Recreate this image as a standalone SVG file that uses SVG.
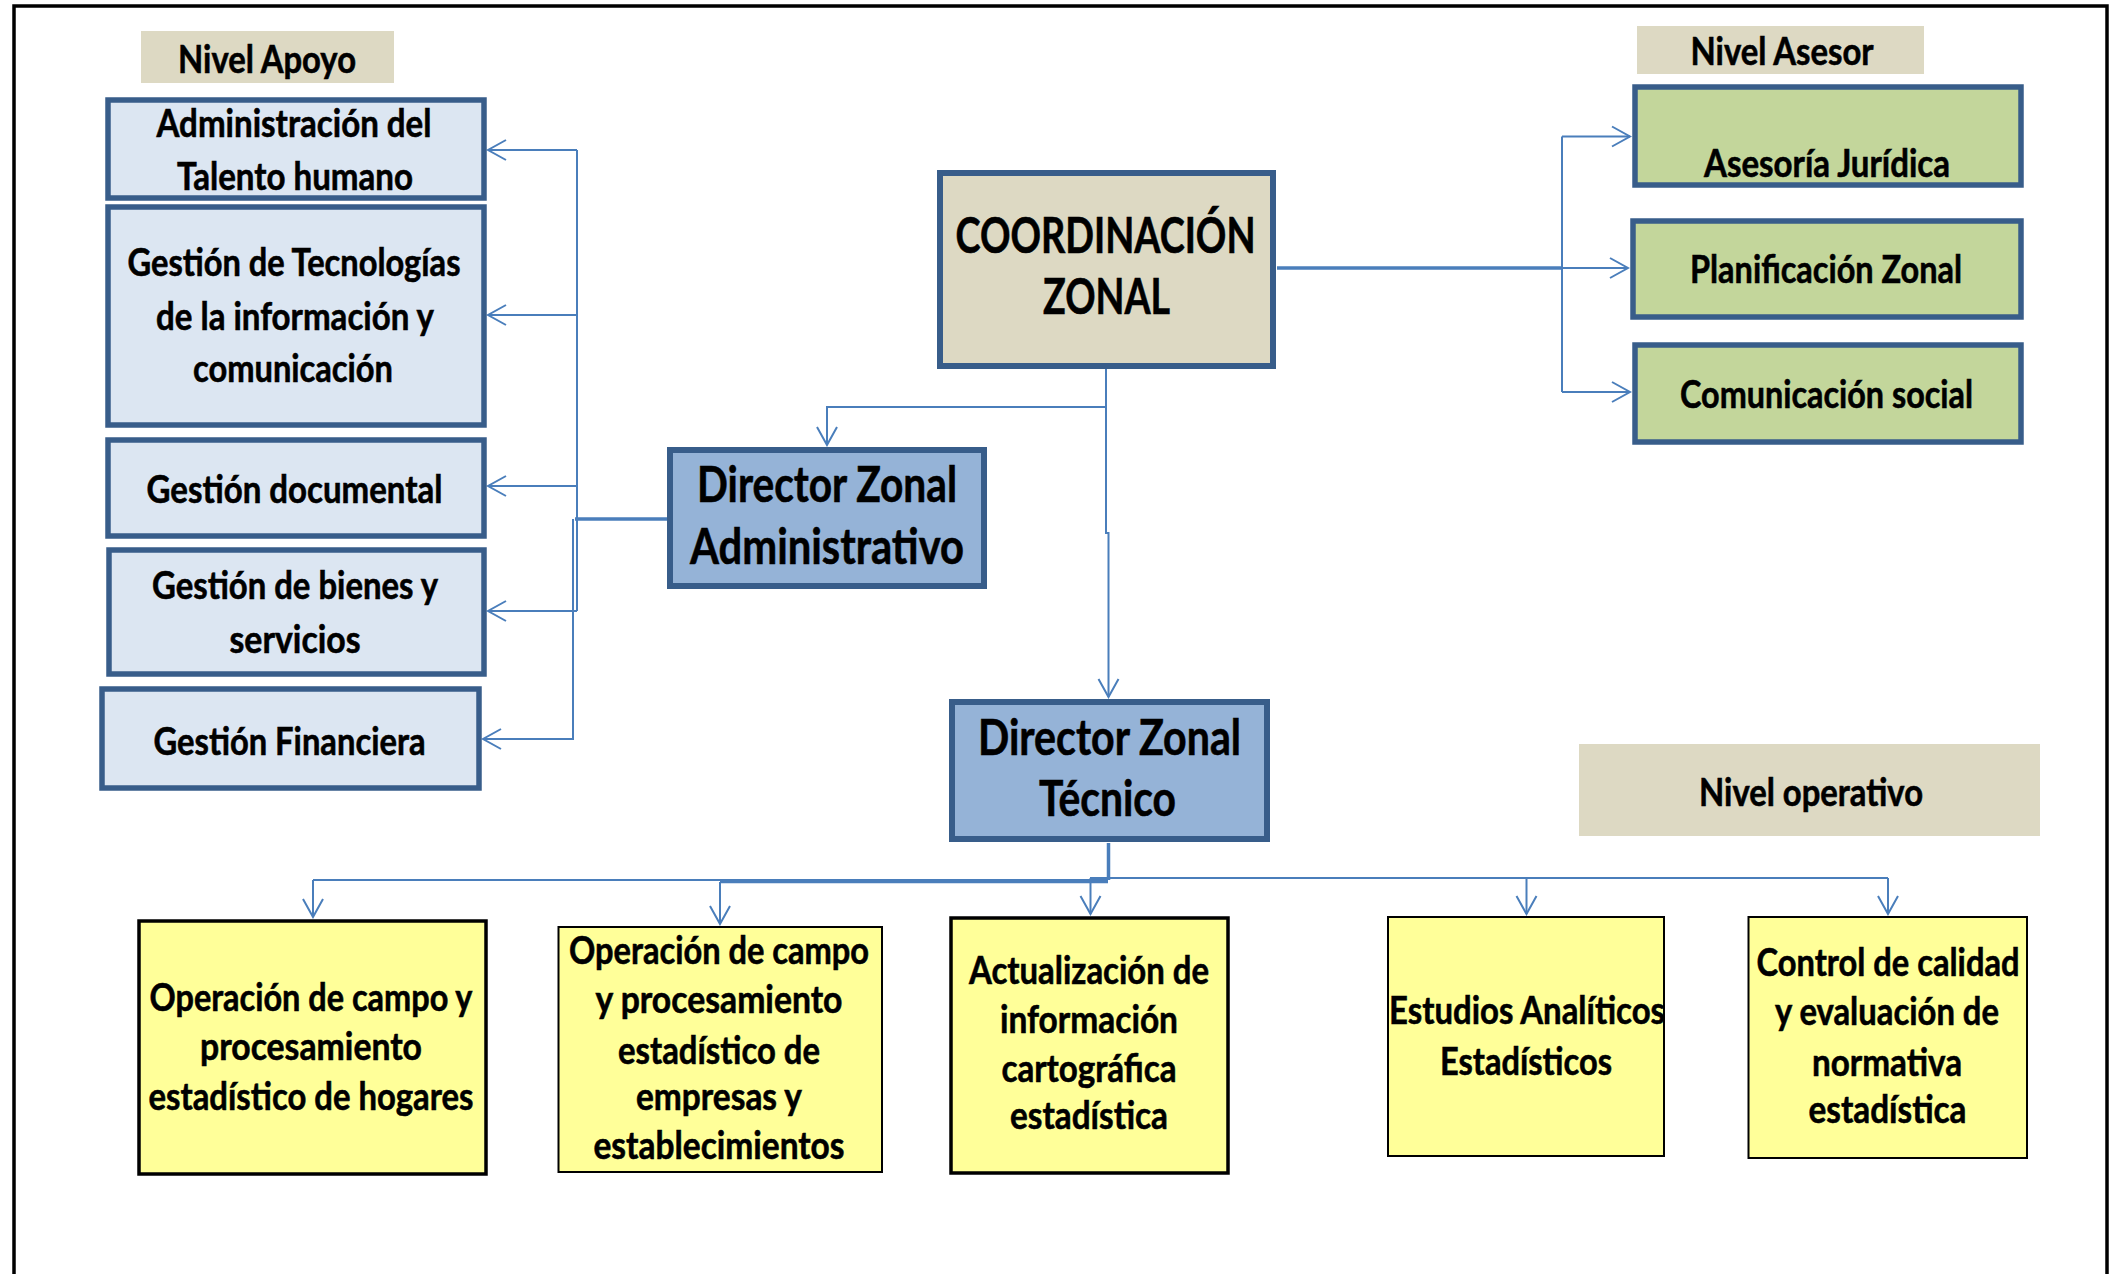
<svg xmlns="http://www.w3.org/2000/svg" width="2112" height="1274" viewBox="0 0 2112 1274">
<style>
text{font-family:Lato,"Liberation Sans","DejaVu Sans",sans-serif;font-weight:bold;fill:#000;stroke:#000;stroke-width:0.6;text-anchor:middle}
.t38{font-size:39px}
.t49{font-size:50px}
.lvl{fill:#DDD9C3}
.sup{fill:#DCE6F2;stroke:#385D8A;stroke-width:5.5}
.dir{fill:#95B3D7;stroke:#385D8A;stroke-width:6}
.coord{fill:#DDD9C3;stroke:#385D8A;stroke-width:6}
.ase{fill:#C3D69B;stroke:#385D8A;stroke-width:5.5}
.op{fill:#FFFF99;stroke:#000;stroke-width:2}
.opb{fill:#FFFF99;stroke:#000;stroke-width:3.5}
.c{fill:none;stroke:#4A7EBB;stroke-width:2}
.ck{fill:none;stroke:#4A7EBB;stroke-width:3.5}
.a{marker-end:url(#arr)}
</style>
<defs>
<marker id="arr" markerUnits="userSpaceOnUse" markerWidth="22" markerHeight="24" viewBox="0 0 22 24" refX="20" refY="12" orient="auto">
<path d="M2,2 L20,12 L2,22" fill="none" stroke="#4A7EBB" stroke-width="2"/>
</marker>
</defs>
<rect x="0" y="0" width="2112" height="1274" fill="#fff"/>
<rect x="14" y="6" width="2093" height="1320" fill="none" stroke="#000" stroke-width="3.5"/>

<g id="connectors">
<path class="c" d="M577,150 V611"/>
<path class="c a" d="M577,150 H488"/>
<path class="c a" d="M577,315 H488"/>
<path class="c a" d="M577,486 H488"/>
<path class="c a" d="M577,611 H488"/>
<path class="ck" d="M667,519 H575"/>
<path class="c a" d="M573,519 V739 H483"/>
<path class="c a" d="M1106,369 V407 H827 V445"/>
<path class="c a" d="M1106,407 V533 H1108.5 V697"/>
<path class="ck" d="M1277,268 H1562"/>
<path class="c" d="M1562,136.5 V392"/>
<path class="c a" d="M1562,136.5 H1630"/>
<path class="c a" d="M1562,268 H1628"/>
<path class="c a" d="M1562,392 H1630"/>
<path class="ck" d="M1108.5,843 V880"/>
<path class="c" d="M313,880 H1108"/>
<path class="ck" d="M720,881.5 H1108"/>
<path class="c" d="M1090,878 H1888"/>
<path class="c a" d="M313,880 V917"/>
<path class="c a" d="M720,882 V924"/>
<path class="c a" d="M1090.5,878 V914"/>
<path class="c a" d="M1526.5,878 V914"/>
<path class="c a" d="M1888,878 V914"/>
</g>

<g id="nivel-apoyo">
<rect class="lvl" x="141" y="31" width="253" height="52"/>
<text class="t38" x="267" y="73" textLength="178" lengthAdjust="spacingAndGlyphs">Nivel Apoyo</text>
</g>
<g id="talento-humano">
<rect class="sup" x="108" y="100" width="376" height="98"/>
<text class="t38" x="294" y="137" textLength="275" lengthAdjust="spacingAndGlyphs">Administración del</text>
<text class="t38" x="295" y="190" textLength="236" lengthAdjust="spacingAndGlyphs">Talento humano</text>
</g>
<g id="tecnologias">
<rect class="sup" x="108" y="207" width="376" height="218"/>
<text class="t38" x="294" y="276" textLength="333" lengthAdjust="spacingAndGlyphs">Gestión de Tecnologías</text>
<text class="t38" x="295" y="330" textLength="278" lengthAdjust="spacingAndGlyphs">de la información y</text>
<text class="t38" x="293" y="382" textLength="200" lengthAdjust="spacingAndGlyphs">comunicación</text>
</g>
<g id="documental">
<rect class="sup" x="108" y="440" width="376" height="96"/>
<text class="t38" x="294.5" y="503" textLength="296" lengthAdjust="spacingAndGlyphs">Gestión documental</text>
</g>
<g id="bienes">
<rect class="sup" x="109" y="550" width="375" height="124"/>
<text class="t38" x="295" y="599" textLength="286" lengthAdjust="spacingAndGlyphs">Gestión de bienes y</text>
<text class="t38" x="295" y="653" textLength="131" lengthAdjust="spacingAndGlyphs">servicios</text>
</g>
<g id="financiera">
<rect class="sup" x="102" y="689" width="377" height="99"/>
<text class="t38" x="289.5" y="755" textLength="272" lengthAdjust="spacingAndGlyphs">Gestión Financiera</text>
</g>

<g id="coordinacion-zonal">
<rect class="coord" x="940" y="173" width="333" height="193"/>
<text class="t49" x="1105.5" y="253" textLength="300" lengthAdjust="spacingAndGlyphs">COORDINACIÓN</text>
<text class="t49" x="1106.5" y="314" textLength="127" lengthAdjust="spacingAndGlyphs">ZONAL</text>
</g>
<g id="director-administrativo">
<rect class="dir" x="670" y="450" width="314" height="136"/>
<text class="t49" x="827" y="502" textLength="260" lengthAdjust="spacingAndGlyphs">Director Zonal</text>
<text class="t49" x="827" y="564" textLength="274" lengthAdjust="spacingAndGlyphs">Administrativo</text>
</g>
<g id="director-tecnico">
<rect class="dir" x="952" y="702" width="315" height="137"/>
<text class="t49" x="1109.5" y="755" textLength="263" lengthAdjust="spacingAndGlyphs">Director Zonal</text>
<text class="t49" x="1107.5" y="816" textLength="137" lengthAdjust="spacingAndGlyphs">Técnico</text>
</g>

<g id="nivel-asesor">
<rect class="lvl" x="1637" y="26" width="287" height="48"/>
<text class="t38" x="1782" y="65" textLength="183" lengthAdjust="spacingAndGlyphs">Nivel Asesor</text>
</g>
<g id="asesoria-juridica">
<rect class="ase" x="1635" y="87" width="386" height="98"/>
<text class="t38" x="1827" y="177" textLength="246" lengthAdjust="spacingAndGlyphs">Asesoría Jurídica</text>
</g>
<g id="planificacion-zonal">
<rect class="ase" x="1633" y="221" width="388" height="96"/>
<text class="t38" x="1826" y="283" textLength="272" lengthAdjust="spacingAndGlyphs">Planificación Zonal</text>
</g>
<g id="comunicacion-social">
<rect class="ase" x="1635" y="345" width="386" height="97"/>
<text class="t38" x="1826.5" y="408" textLength="293" lengthAdjust="spacingAndGlyphs">Comunicación social</text>
</g>

<g id="nivel-operativo">
<rect class="lvl" x="1579" y="744" width="461" height="92"/>
<text class="t38" x="1811" y="806" textLength="224" lengthAdjust="spacingAndGlyphs">Nivel operativo</text>
</g>
<g id="hogares">
<rect class="opb" x="139" y="921" width="347" height="253"/>
<text class="t38" x="311" y="1011" textLength="323" lengthAdjust="spacingAndGlyphs">Operación de campo y</text>
<text class="t38" x="311" y="1059.5" textLength="222" lengthAdjust="spacingAndGlyphs">procesamiento</text>
<text class="t38" x="311" y="1110" textLength="325" lengthAdjust="spacingAndGlyphs">estadístico de hogares</text>
</g>
<g id="empresas">
<rect class="op" x="558.5" y="927" width="323.5" height="245"/>
<text class="t38" x="719" y="964" textLength="300" lengthAdjust="spacingAndGlyphs">Operación de campo</text>
<text class="t38" x="719" y="1013" textLength="247" lengthAdjust="spacingAndGlyphs">y procesamiento</text>
<text class="t38" x="719" y="1063.5" textLength="202" lengthAdjust="spacingAndGlyphs">estadístico de</text>
<text class="t38" x="719" y="1110" textLength="166" lengthAdjust="spacingAndGlyphs">empresas y</text>
<text class="t38" x="719" y="1159" textLength="251" lengthAdjust="spacingAndGlyphs">establecimientos</text>
</g>
<g id="cartografia">
<rect class="opb" x="951" y="918" width="277" height="255"/>
<text class="t38" x="1089" y="984" textLength="240" lengthAdjust="spacingAndGlyphs">Actualización de</text>
<text class="t38" x="1089" y="1033" textLength="178" lengthAdjust="spacingAndGlyphs">información</text>
<text class="t38" x="1089" y="1082" textLength="175" lengthAdjust="spacingAndGlyphs">cartográfica</text>
<text class="t38" x="1089" y="1128.5" textLength="158" lengthAdjust="spacingAndGlyphs">estadística</text>
</g>
<g id="estudios">
<rect class="op" x="1388" y="917" width="276" height="239"/>
<text class="t38" x="1527" y="1024" textLength="276" lengthAdjust="spacingAndGlyphs">Estudios Analíticos</text>
<text class="t38" x="1526" y="1075" textLength="172" lengthAdjust="spacingAndGlyphs">Estadísticos</text>
</g>
<g id="control-calidad">
<rect class="op" x="1748.5" y="917" width="278.5" height="241"/>
<text class="t38" x="1888" y="976" textLength="263" lengthAdjust="spacingAndGlyphs">Control de calidad</text>
<text class="t38" x="1887" y="1025" textLength="224" lengthAdjust="spacingAndGlyphs">y evaluación de</text>
<text class="t38" x="1887" y="1075.5" textLength="150" lengthAdjust="spacingAndGlyphs">normativa</text>
<text class="t38" x="1887.5" y="1122.5" textLength="158" lengthAdjust="spacingAndGlyphs">estadística</text>
</g>
</svg>
